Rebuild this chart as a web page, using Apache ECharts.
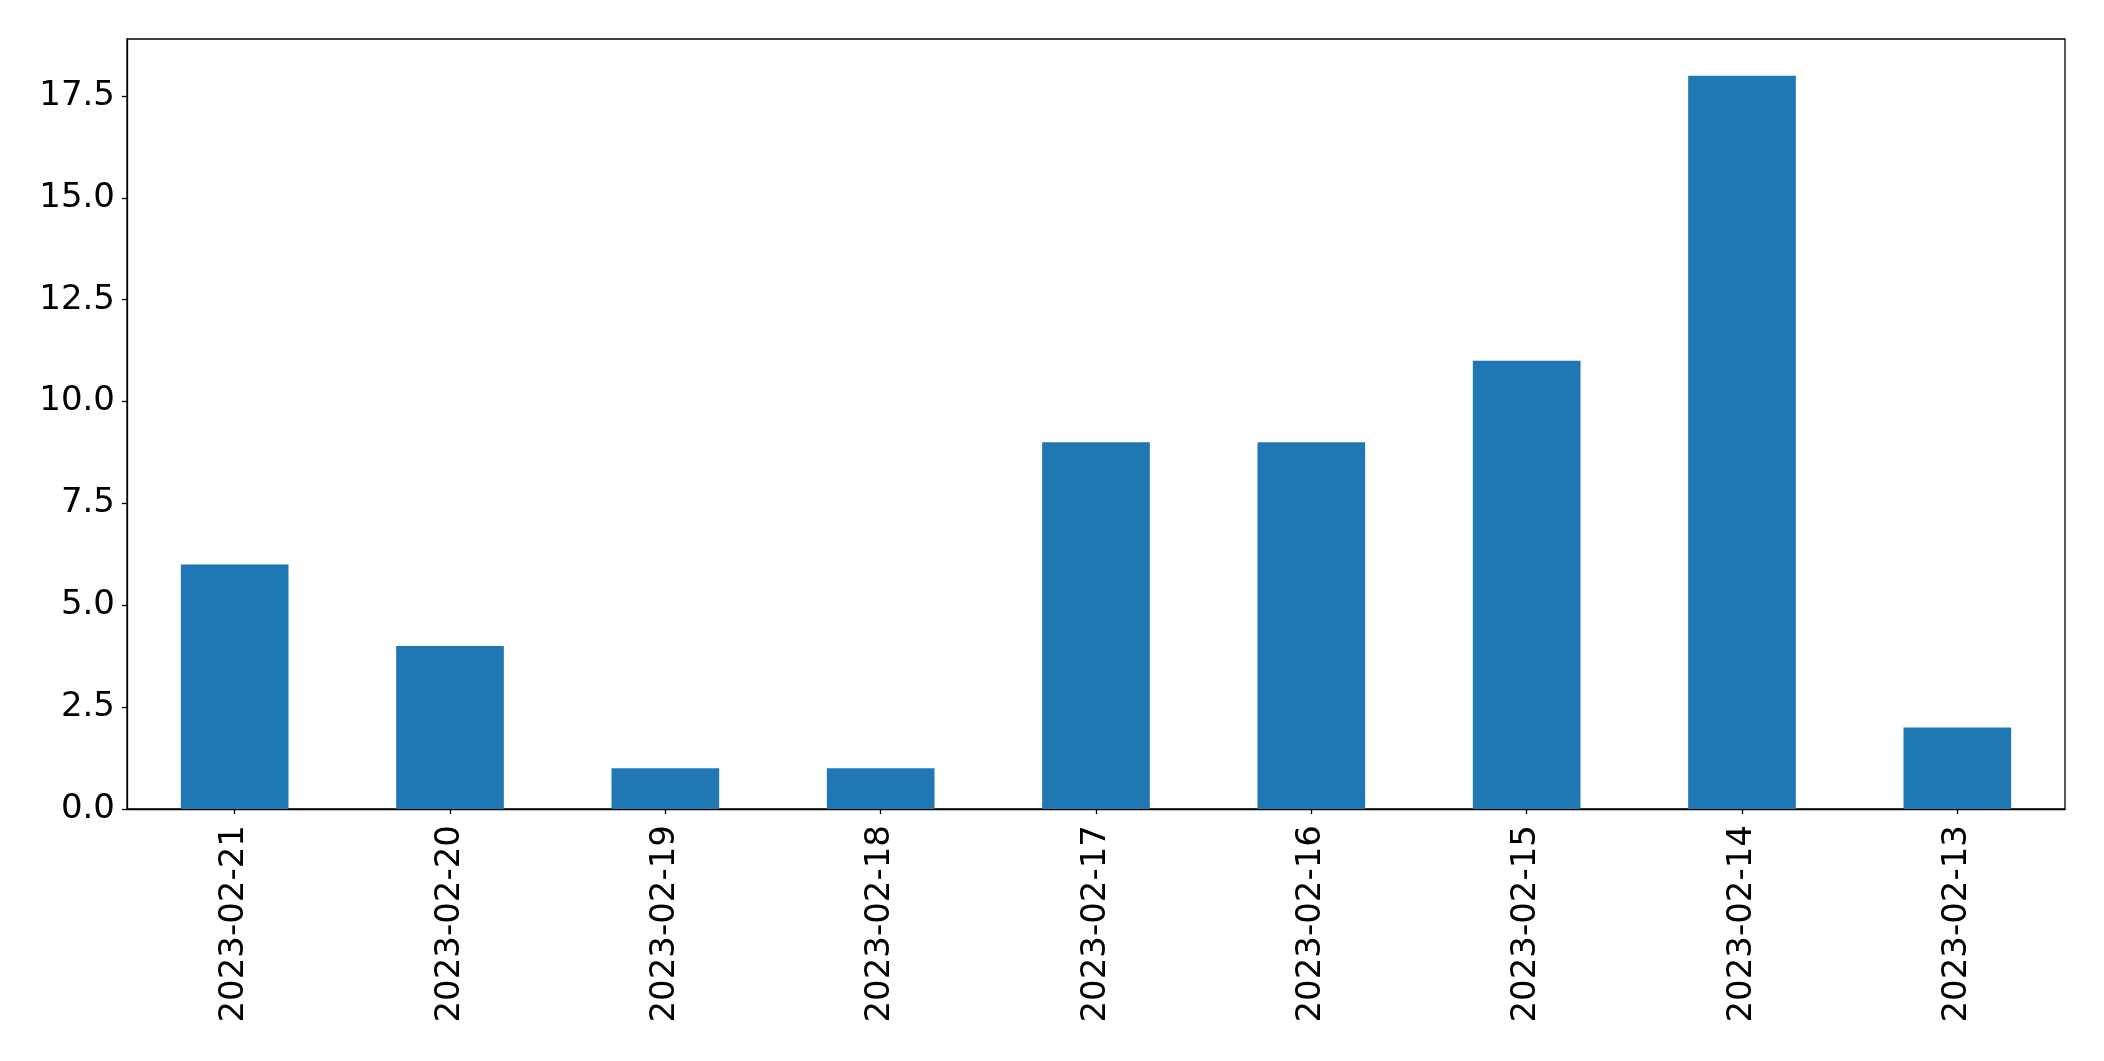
<!DOCTYPE html>
<html>
<head>
<meta charset="utf-8">
<script src="https://cdn.jsdelivr.net/npm/echarts@6/dist/echarts.min.js"></script>
<style>
html,body{margin:0;padding:0;background:#fff;}
#chart{width:2104px;height:1061px;}
</style>
</head>
<body>
<div id="chart"></div>
<script>
const categories = ['2023-02-21','2023-02-20','2023-02-19','2023-02-18','2023-02-17','2023-02-16','2023-02-15','2023-02-14','2023-02-13'];
const values = [6, 4, 1, 1, 9, 9, 11, 18, 2];
const yTicks = [0, 2.5, 5, 7.5, 10, 12.5, 15, 17.5];

const chart = echarts.init(document.getElementById('chart'));
const font = 'DejaVu Sans';
chart.setOption({
  animation: false,
  backgroundColor: '#fff',
  grid: {
    left: 127, right: 39, top: 39, bottom: 252,
    show: true, borderColor: '#000', borderWidth: 1.3, backgroundColor: 'transparent'
  },
  xAxis: {
    type: 'category',
    data: categories,
    axisLine: { show: true, lineStyle: { color: '#000', width: 1.3 } },
    axisTick: { show: true, alignWithLabel: true, length: 5, lineStyle: { color: '#000', width: 1.3 } },
    axisLabel: { rotate: 90, color: '#000', fontFamily: font, fontSize: 34, margin: 16 },
    splitLine: { show: false }
  },
  yAxis: {
    type: 'value',
    min: 0,
    max: 18.9,
    axisLine: { show: true, lineStyle: { color: '#000', width: 1.3 } },
    axisTick: { show: true, length: 5, customValues: yTicks, lineStyle: { color: '#000', width: 1.3 } },
    axisLabel: {
      color: '#000', fontFamily: font, fontSize: 34, margin: 12,
      customValues: yTicks,
      formatter: v => v.toFixed(1)
    },
    splitLine: { show: false }
  },
  series: [{
    type: 'bar',
    data: values,
    barWidth: '50%',
    itemStyle: { color: '#1f77b4' }
  }]
});
</script>
</body>
</html>
